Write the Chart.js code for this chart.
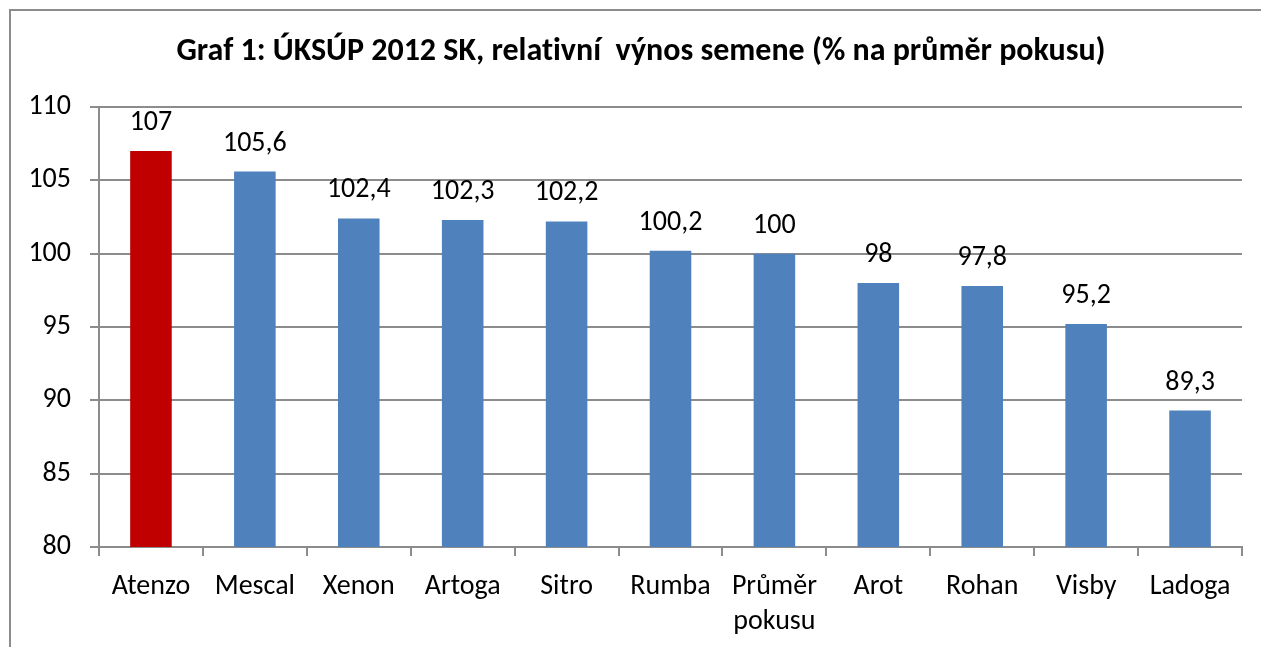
<!DOCTYPE html>
<html>
<head>
<meta charset="utf-8">
<script src="https://cdn.jsdelivr.net/npm/chart.js@4/dist/chart.umd.min.js"></script>
<style>
  body { margin: 0; background: #fff; }
  #wrap { position: relative; width: 1261px; height: 647px; }
</style>
</head>
<body>
<div id="wrap"><canvas id="chart1"></canvas></div>
<script>
"use strict";

var chartTitle = 'Graf 1: ÚKSÚP 2012 SK, relativní  výnos semene (% na průměr pokusu)';
var categories = ['Atenzo', 'Mescal', 'Xenon', 'Artoga', 'Sitro', 'Rumba', ['Průměr', 'pokusu'], 'Arot', 'Rohan', 'Visby', 'Ladoga'];
var values = [107, 105.6, 102.4, 102.3, 102.2, 100.2, 100, 98, 97.8, 95.2, 89.3];
var barColors = ['#c00000', '#4f81bd', '#4f81bd', '#4f81bd', '#4f81bd', '#4f81bd', '#4f81bd', '#4f81bd', '#4f81bd', '#4f81bd', '#4f81bd'];
var yMin = 80, yMax = 110, yStep = 5;

var fontFamily = "Carlito, Lato, 'Open Sans', sans-serif";
var gridColor = '#8c8c8c';

// frame + title, drawn by hand so the title can sit where Excel put it
var framePlugin = {
    id: 'frame',
    beforeDraw: function (chart) {
        var ctx = chart.ctx;
        ctx.save();
        ctx.strokeStyle = gridColor;
        ctx.lineWidth = 2;
        ctx.strokeRect(10, 10, 1300, 700);
        ctx.restore();
    },
    afterDraw: function (chart) {
        var ctx = chart.ctx;
        ctx.save();
        ctx.fillStyle = '#000';
        ctx.font = 'bold 32px ' + fontFamily;
        if ('textRendering' in ctx) ctx.textRendering = 'optimizeSpeed';
        ctx.textAlign = 'center';
        ctx.textBaseline = 'middle';
        ctx.fillText(chartTitle, 641, 52);
        ctx.restore();
    }
};

// value labels above each bar
var valueLabels = {
    id: 'valueLabels',
    afterDatasetsDraw: function (chart) {
        var ctx = chart.ctx;
        var meta = chart.getDatasetMeta(0);
        ctx.save();
        ctx.fillStyle = '#000';
        ctx.font = '28px ' + fontFamily;
        ctx.textAlign = 'center';
        ctx.textBaseline = 'middle';
        meta.data.forEach(function (bar, i) {
            var txt = String(values[i]).replace('.', ',');
            ctx.fillText(txt, bar.x, bar.y - 28);
        });
        ctx.restore();
    }
};

var ctx = document.getElementById('chart1').getContext('2d');

var myChart = new Chart(ctx, {
    type: 'bar',
    data: {
        labels: categories,
        datasets: [{
            data: values,
            backgroundColor: barColors,
            borderWidth: 0,
            barPercentage: 0.4,
            categoryPercentage: 1
        }]
    },
    options: {
        responsive: true,
        maintainAspectRatio: false,
        animation: false,
        layout: {
            padding: { top: 107, right: 19, bottom: 0, left: 0 }
        },
        plugins: {
            legend: { display: false },
            title: { display: false },
            tooltip: { enabled: false }
        },
        scales: {
            x: {
                afterFit: function (scale) { scale.height = 100; },
                grid: {
                    offset: true,
                    drawOnChartArea: false,
                    drawTicks: true,
                    tickLength: 9,
                    color: gridColor,
                    lineWidth: 2
                },
                border: { color: gridColor, width: 2 },
                ticks: {
                    color: '#000',
                    padding: 13,
                    maxRotation: 0,
                    autoSkip: false,
                    font: { family: fontFamily, size: 28, lineHeight: 1.25 }
                }
            },
            y: {
                min: yMin,
                max: yMax,
                afterFit: function (scale) { scale.width = 99; },
                grid: {
                    color: gridColor,
                    lineWidth: 2,
                    tickLength: 9
                },
                border: { color: gridColor, width: 2 },
                ticks: {
                    stepSize: yStep,
                    color: '#000',
                    padding: 19,
                    font: { family: fontFamily, size: 28 }
                }
            }
        }
    },
    plugins: [framePlugin, valueLabels]
});
</script>
</body>
</html>
